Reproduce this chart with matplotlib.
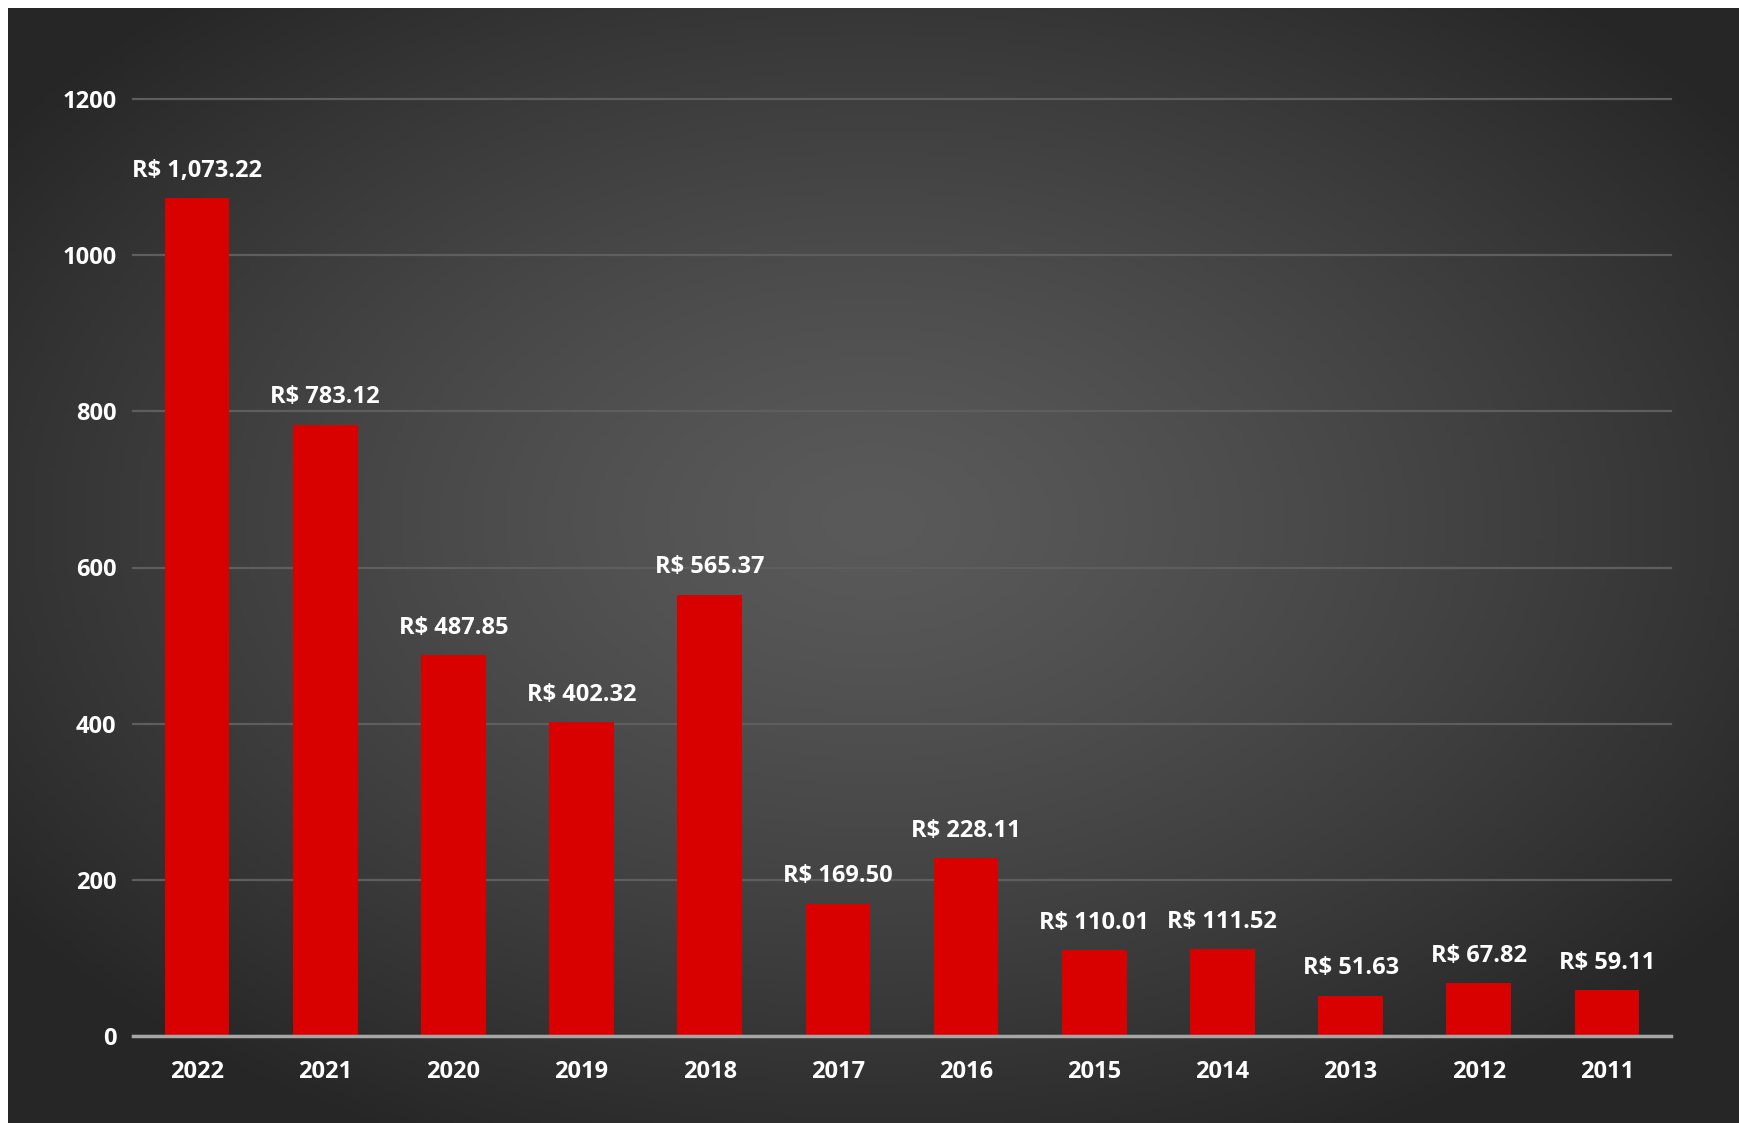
import numpy as np
import matplotlib
matplotlib.use("Agg")
from matplotlib import pyplot as plt

# data
years = ["2022", "2021", "2020", "2019", "2018", "2017",
         "2016", "2015", "2014", "2013", "2012", "2011"]
values = [1073.22, 783.12, 487.85, 402.32, 565.37, 169.50,
          228.11, 110.01, 111.52, 51.63, 67.82, 59.11]
labels = ["R$ 1,073.22", "R$ 783.12", "R$ 487.85", "R$ 402.32", "R$ 565.37",
          "R$ 169.50", "R$ 228.11", "R$ 110.01", "R$ 111.52", "R$ 51.63",
          "R$ 67.82", "R$ 59.11"]
yticks = [0, 200, 400, 600, 800, 1000, 1200]

plt.rcParams['font.family'] = ['Open Sans', 'DejaVu Sans']

W, H = 1740, 1123
fig = plt.figure(figsize=(W / 100, H / 100), dpi=100, facecolor="white")

# dark radial gradient background
bg = fig.add_axes([8 / W, 0, 1 - 8 / W, (H - 8) / H])
bg.set_axis_off()
gx, gy = np.meshgrid(np.linspace(0, 1, 400), np.linspace(0, 1, 300))
r = np.sqrt(((gx - 0.5) / 0.62) ** 2 + ((gy - 0.46) / 0.62) ** 2)
r = np.clip(r, 0, 1)
shade = (0x5a - (0x5a - 0x26) * r ** 1.3) / 255.0
img = np.dstack([shade, shade, shade])
bg.imshow(img, aspect="auto", extent=[0, 1, 0, 1], origin="upper")
bg.set_xlim(0, 1)
bg.set_ylim(0, 1)

ax = fig.add_axes([133 / W, (H - 1036) / H, (1671 - 133) / W, (1036 - 99) / H])
ax.patch.set_alpha(0)

x = np.arange(len(years))
ax.bar(x, values, width=0.505, color="#d90000", zorder=3)

for xi, v, lab in zip(x, values, labels):
    ax.annotate(lab, (xi, v), xytext=(0, 11), textcoords="offset points",
                ha="center", va="bottom", color="white", fontsize=17,
                fontweight="bold", zorder=4)

ax.set_xlim(-0.5, len(years) - 0.5)
ax.set_ylim(0, 1200)
ax.set_yticks(yticks)
ax.set_xticks(x)
ax.set_xticklabels(years)
ax.grid(axis="y", color="#5e5e5e", linewidth=1.6, zorder=0)
ax.set_axisbelow(True)
for s in ["top", "right", "left"]:
    ax.spines[s].set_visible(False)
ax.spines["bottom"].set_color("#a6a6a6")
ax.spines["bottom"].set_linewidth(2.5)
ax.spines["bottom"].set_zorder(5)
ax.tick_params(axis="both", length=0, colors="white", labelsize=17)
ax.tick_params(axis="y", pad=12)
ax.tick_params(axis="x", pad=17)
for t in ax.get_xticklabels() + ax.get_yticklabels():
    t.set_fontweight("bold")
for gl in ax.get_ygridlines():
    gl.set_clip_on(False)

fig.savefig("out.png", dpi=100, facecolor=fig.get_facecolor())
